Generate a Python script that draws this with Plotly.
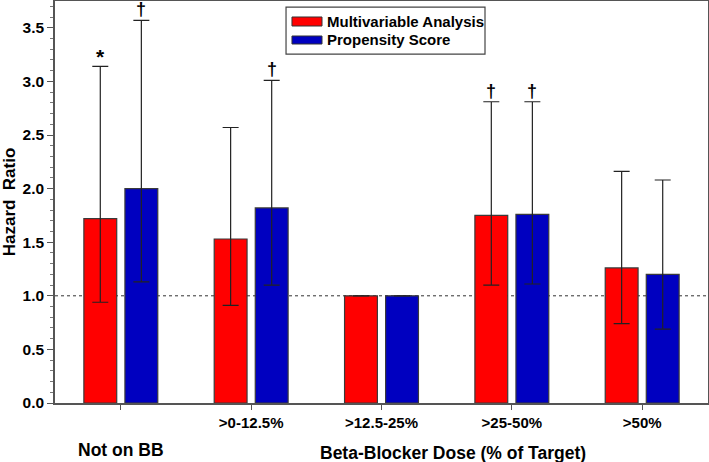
import plotly.graph_objects as go

categories = ["Not on BB", ">0-12.5%", ">12.5-25%", ">25-50%", ">50%"]
tick_labels = ["", ">0-12.5%", ">12.5-25%", ">25-50%", ">50%"]
series_names = ["Multivariable Analysis", "Propensity Score"]

mv_hr = [1.72, 1.53, 1.00, 1.75, 1.26]
mv_upper = [3.14, 2.57, None, 2.81, 2.16]
mv_lower = [0.94, 0.91, None, 1.10, 0.74]
mv_marks = ["*", "", "", "†", ""]

ps_hr = [2.00, 1.82, 1.00, 1.76, 1.20]
ps_upper = [3.57, 3.01, None, 2.81, 2.08]
ps_lower = [1.13, 1.10, None, 1.11, 0.69]
ps_marks = ["†", "†", "", "†", ""]

FONT = "Liberation Sans, Arial, sans-serif"
RED = "#FF0000"
BLUE = "#0000C0"
xs = list(range(len(categories)))


def err(hr, up, lo):
    plus = [None if u is None else u - h for h, u in zip(hr, up)]
    minus = [None if l is None else h - l for h, l in zip(hr, lo)]
    return plus, minus


fig = go.Figure()
for name, hr, up, lo, color in [
    (series_names[0], mv_hr, mv_upper, mv_lower, RED),
    (series_names[1], ps_hr, ps_upper, ps_lower, BLUE),
]:
    plus, minus = err(hr, up, lo)
    fig.add_trace(go.Bar(
        x=xs, y=hr, name=name, showlegend=False, hoverinfo="skip",
        marker=dict(color=color, line=dict(color="#3a3a3a", width=1.2)),
        error_y=dict(type="data", symmetric=False, array=plus, arrayminus=minus,
                     color="#222222", thickness=1.2, width=8),
    ))

# significance marks
off = 0.157
for i, (m, u) in enumerate(zip(mv_marks, mv_upper)):
    if m:
        fig.add_annotation(x=i - off, y=u, text=f"<b>{m}</b>", showarrow=False,
                           yanchor="bottom", yshift=-4 if m == "*" else -1,
                           font=dict(size=21 if m == "*" else 18, color="black", family=FONT))
for i, (m, u) in enumerate(zip(ps_marks, ps_upper)):
    if m:
        fig.add_annotation(x=i + off, y=u, text=f"<b>{m}</b>", showarrow=False,
                           yanchor="bottom", yshift=-1,
                           font=dict(size=18, color="black", family=FONT))

# reference line at 1.0
fig.add_shape(type="line", xref="paper", x0=0, x1=1, yref="y", y0=1, y1=1,
              line=dict(color="#333333", width=1, dash="dot"), layer="below")

# custom legend (wide swatches like the original)
fig.add_shape(type="rect", xref="paper", yref="paper", x0=0.3538, x1=0.6585, y0=0.868, y1=0.985,
              line=dict(color="#444444", width=1.2), fillcolor="white", layer="above")
for (y0, y1), color, name, ty in [((0.9378, 0.9602), RED, series_names[0], 0.949),
                                  ((0.8930, 0.9129), BLUE, series_names[1], 0.903)]:
    fig.add_shape(type="rect", xref="paper", yref="paper", x0=0.3629, x1=0.4089, y0=y0, y1=y1,
                  line=dict(color="#333333", width=1), fillcolor=color, layer="above")
    fig.add_annotation(x=0.4135, y=ty, xref="paper", yref="paper", text=f"<b>{name}</b>",
                       showarrow=False, xanchor="left", yanchor="middle",
                       font=dict(size=15, color="black", family=FONT))

# Not on BB label and x title
fig.add_annotation(x=0, y=0, yref="paper", text="<b>Not on BB</b>", showarrow=False,
                   yanchor="middle", yshift=-47, font=dict(size=17.5, color="black", family=FONT))
fig.add_annotation(x=2.55, y=0, yref="paper", text="<b>Beta-Blocker Dose (% of Target)</b>",
                   showarrow=False, yanchor="middle", yshift=-50,
                   font=dict(size=17.5, color="black", family=FONT))

fig.update_layout(
    width=709, height=462,
    margin=dict(l=55, r=1, t=1, b=59, autoexpand=False),
    paper_bgcolor="white", plot_bgcolor="white",
    barmode="group", bargap=0.37, bargroupgap=0.2,
    font=dict(family=FONT, color="black"),
    showlegend=False,
    xaxis=dict(range=[-0.505, 4.505], tickvals=xs, ticktext=[f"<b>{t}</b>" for t in tick_labels],
               showgrid=False, zeroline=False, showline=True, linecolor="#555555", linewidth=1.5,
               mirror=True, ticks="outside", ticklen=5, tickcolor="#555555", automargin=False,
               tickfont=dict(size=15, color="black", family=FONT)),
    yaxis=dict(range=[0, 3.75], tickvals=[0, 0.5, 1, 1.5, 2, 2.5, 3, 3.5],
               ticktext=["<b>0.0</b>", "<b>0.5</b>", "<b>1.0</b>", "<b>1.5</b>", "<b>2.0</b>",
                         "<b>2.5</b>", "<b>3.0</b>", "<b>3.5</b>"],
               showgrid=False, zeroline=False, showline=True, linecolor="#555555", linewidth=1.5,
               mirror=True, ticks="outside", ticklen=6, tickcolor="#555555", automargin=False,
               minor=dict(dtick=0.1, tick0=0, ticks="outside", ticklen=3, tickcolor="#777777"),
               tickfont=dict(size=15.5, color="black", family=FONT),
               title=dict(text="<b>Hazard  Ratio</b>", font=dict(size=17, color="black", family=FONT),
                          standoff=6)),
)

fig.write_html("out.html", config={"displayModeBar": False},
               post_script="document.body.style.margin='0';")
